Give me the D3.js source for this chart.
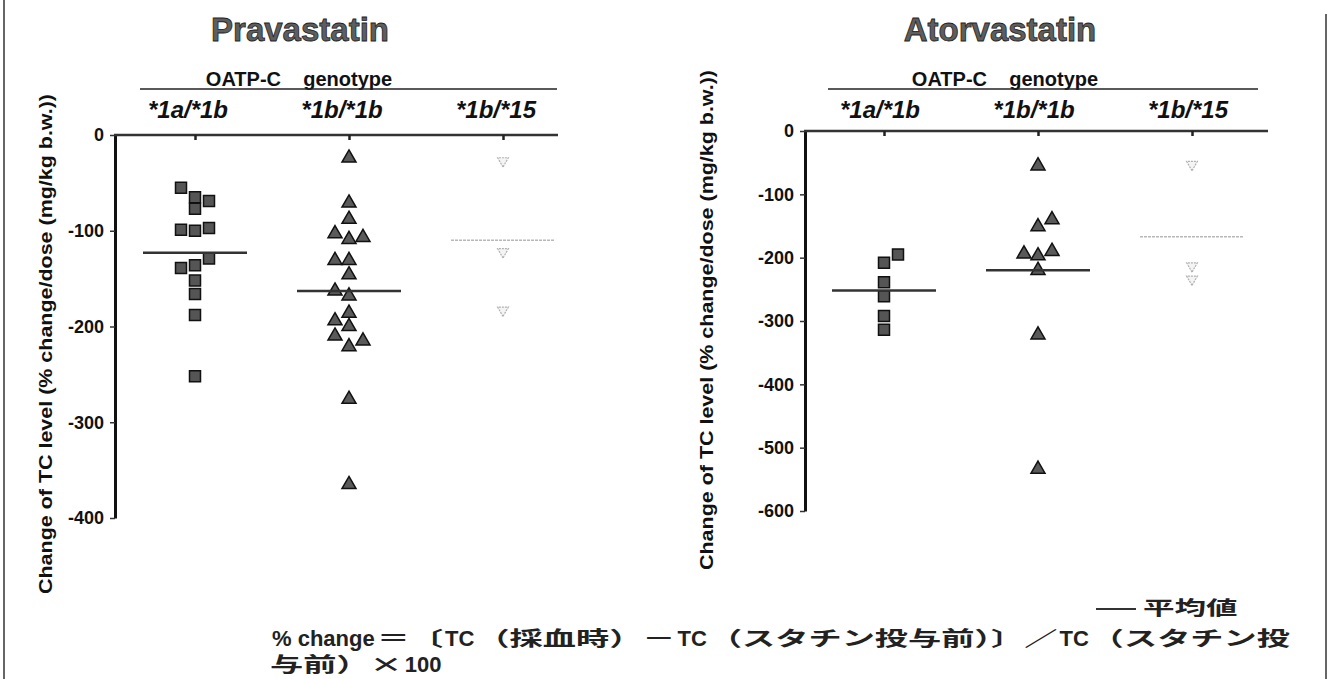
<!DOCTYPE html>
<html>
<head>
<meta charset="utf-8">
<script src="https://cdn.jsdelivr.net/npm/d3@7"></script>
<style>
  body { margin: 0; background: #fff; }
  svg text { font-family: "Liberation Sans", Arial, sans-serif; }
</style>
</head>
<body>
<div id="chart"></div>
<script>
(function() {
  var width = 1331, height = 679;

  // categories
  var genotypes = ["*1a/*1b", "*1b/*1b", "*1b/*15"];

  // Pravastatin values (% change / dose), with side lane for overlapping points
  var pravaSq = [-55, -65, -69, -77, -99, -100, -97, -129, -139, -136, -152, -166, -188, -252];
  var pravaSqLane = [-1, 0, 1, 0, -1, 0, 1, 1, -1, 0, 0, 0, 0, 0];
  var pravaTri = [-24, -71, -88, -103, -109, -107, -131, -131, -146, -163, -168, -186, -194, -200, -210, -215, -221, -276, -365];
  var pravaTriLane = [0, 0, 0, -1, 0, 1, -1, 0, 0, -1, 0, 0, -1, 0, -1, 1, 0, 0, 0];
  var pravaInv = [-27, -122, -183];
  var pravaInvLane = [0, 0, 0];
  var pravaMeans = [-123, -163, -110];

  // Atorvastatin values
  var atorSq = [-195, -208, -239, -261, -292, -314];
  var atorSqLane = [1, 0, 0, 0, 0, 0];
  var atorTri = [-55, -140, -151, -194, -197, -190, -220, -322, -534];
  var atorTriLane = [0, 1, 0, -1, 0, 1, 0, 0, 0];
  var atorInv = [-53, -213, -234];
  var atorInvLane = [0, 0, 0];
  var atorMeans = [-252, -220, -167];

  var pravaTicks = [0, -100, -200, -300, -400];
  var atorTicks = [0, -100, -200, -300, -400, -500, -600];

  var yLabel = "Change of TC level (% change/dose (mg/kg b.w.))";

  // footnote pieces: [text, isLatin]
  var noteLine1 = [
    ["% change", true], ["＝〔", false], ["TC", true], ["（採血時）－", false],
    ["TC", true], ["（スタチン投与前）〕／", false], ["TC", true], ["（スタチン投", false]
  ];
  var noteLine2 = [["与前）×", false], ["100", true]];
  var legendLabel = "平均値";

  var svg = d3.select("#chart")
    .append("svg")
    .attr("width", width)
    .attr("height", height);

  // frame lines
  svg.append("line").attr("x1", 4).attr("x2", 4).attr("y1", 0).attr("y2", height)
    .attr("stroke", "#333").attr("stroke-width", 1.5);
  svg.append("line").attr("x1", 1326).attr("x2", 1326).attr("y1", 14).attr("y2", height)
    .attr("stroke", "#333").attr("stroke-width", 1.5);

  var lane = d3.scaleLinear().domain([-1, 1]).range([-14, 14]);

  function groupsFor(sq, sqLane, tri, triLane, inv, invLane) {
    return [
      { key: genotypes[0], values: sq, lanes: sqLane, shape: "square" },
      { key: genotypes[1], values: tri, lanes: triLane, shape: "tri" },
      { key: genotypes[2], values: inv, lanes: invLane, shape: "inv" }
    ];
  }

  var panels = [
    {
      title: "Pravastatin", titleX: 300, headX: 299,
      axisX: 115, endX: 558, yTop: 135, yBottom: 518,
      catRange: [195, 503], lineRange: [140, 557], genoShift: -7,
      domain: [-400, 0], ticks: pravaTicks, labelX: 45, labelY: 344,
      groups: groupsFor(pravaSq, pravaSqLane, pravaTri, pravaTriLane, pravaInv, pravaInvLane),
      means: pravaMeans
    },
    {
      title: "Atorvastatin", titleX: 1000, headX: 1005,
      axisX: 805, endX: 1268, yTop: 131, yBottom: 511,
      catRange: [884, 1192], lineRange: [828, 1258], genoShift: -4,
      domain: [-600, 0], ticks: atorTicks, labelX: 706, labelY: 320,
      groups: groupsFor(atorSq, atorSqLane, atorTri, atorTriLane, atorInv, atorInvLane),
      means: atorMeans
    }
  ];

  var squareSym = d3.symbol().type(d3.symbolSquare).size(121);
  var triSym = d3.symbol().type(d3.symbolTriangle).size(85);
  var invSym = d3.symbol().type(d3.symbolTriangle).size(50);

  panels.forEach(function(p) {
    var g = svg.append("g");

    var yScale = d3.scaleLinear().domain(p.domain).range([p.yBottom, p.yTop]);
    var xScale = d3.scalePoint().domain(genotypes).range(p.catRange);

    // title
    g.append("text")
      .attr("x", p.titleX)
      .attr("y", 41)
      .attr("text-anchor", "middle")
      .style("font-size", "33px")
      .style("font-weight", "bold")
      .attr("fill", "#5e5e5e")
      .attr("stroke", "#1e1e1e")
      .attr("stroke-width", 0.8)
      .text(p.title);

    // OATP-C genotype header
    g.append("text")
      .attr("x", p.headX)
      .attr("y", 86)
      .attr("text-anchor", "middle")
      .style("font-size", "20px")
      .style("font-weight", "bold")
      .attr("fill", "#111")
      .attr("xml:space", "preserve")
      .text("OATP-C    genotype");

    g.append("line")
      .attr("x1", p.lineRange[0]).attr("x2", p.lineRange[1])
      .attr("y1", 89).attr("y2", 89)
      .attr("stroke", "#222").attr("stroke-width", 1.5);

    // genotype labels
    g.selectAll(".geno")
      .data(genotypes)
      .enter().append("text")
      .attr("class", "geno")
      .attr("x", function(d) { return xScale(d) + p.genoShift; })
      .attr("y", 118)
      .attr("text-anchor", "middle")
      .style("font-size", "24px")
      .style("font-weight", "bold")
      .style("font-style", "italic")
      .attr("fill", "#111")
      .text(function(d) { return d; });

    // y axis
    var yAxis = d3.axisLeft(yScale)
      .tickValues(p.ticks)
      .tickSize(5)
      .tickSizeOuter(0)
      .tickPadding(6)
      .tickFormat(function(d) { return String(d); });

    var ya = g.append("g")
      .attr("class", "y-axis")
      .attr("transform", "translate(" + p.axisX + ",0)")
      .call(yAxis);
    ya.select(".domain").attr("stroke", "#111").attr("stroke-width", 3);
    ya.selectAll(".tick line").attr("stroke", "#333").attr("stroke-width", 1.5);
    ya.selectAll(".tick text")
      .style("font-size", "18px")
      .style("font-weight", "bold")
      .attr("fill", "#111");

    // top axis at zero with category ticks
    g.append("line")
      .attr("x1", p.axisX - 1).attr("x2", p.endX)
      .attr("y1", yScale(0)).attr("y2", yScale(0))
      .attr("stroke", "#333").attr("stroke-width", 2.5);

    var xAxis = d3.axisBottom(xScale).tickSize(5).tickSizeOuter(0).tickFormat("");
    var xa = g.append("g")
      .attr("transform", "translate(0," + yScale(0) + ")")
      .call(xAxis);
    xa.select(".domain").remove();
    xa.selectAll(".tick line").attr("stroke", "#222").attr("stroke-width", 2.5);

    // y axis label
    g.append("text")
      .attr("transform", "translate(" + p.labelX + "," + p.labelY + ") rotate(-90)")
      .attr("text-anchor", "middle")
      .attr("dy", "0.35em")
      .attr("textLength", 500)
      .attr("lengthAdjust", "spacingAndGlyphs")
      .style("font-size", "19px")
      .style("font-weight", "bold")
      .attr("fill", "#111")
      .text(yLabel);

    // points
    p.groups.forEach(function(grp) {
      var pts = grp.values.map(function(v, i) { return { v: v, lane: grp.lanes[i] }; });
      var sel = g.selectAll(".pt-" + grp.shape)
        .data(pts)
        .enter().append("path")
        .attr("class", "pt-" + grp.shape)
        .attr("transform", function(d) {
          var t = "translate(" + (xScale(grp.key) + lane(d.lane)) + "," + yScale(d.v) + ")";
          if (grp.shape === "inv") t += " rotate(180)";
          return t;
        });
      if (grp.shape === "square") {
        sel.attr("d", squareSym).attr("fill", "#555").attr("stroke", "#111").attr("stroke-width", 1.5);
      } else if (grp.shape === "tri") {
        sel.attr("d", triSym).attr("fill", "#5a5a5a").attr("stroke", "#111").attr("stroke-width", 1.5);
      } else {
        sel.attr("d", invSym).attr("fill", "#f4f4f4").attr("stroke", "#b0b0b0").attr("stroke-width", 1.2)
          .attr("stroke-dasharray", "2,1");
      }
    });

    // mean lines
    g.selectAll(".mean")
      .data(p.means)
      .enter().append("line")
      .attr("class", "mean")
      .attr("x1", function(d, i) { return xScale(genotypes[i]) - 52; })
      .attr("x2", function(d, i) { return xScale(genotypes[i]) + 52; })
      .attr("y1", function(d) { return yScale(d); })
      .attr("y2", function(d) { return yScale(d); })
      .attr("stroke", function(d, i) { return i === 2 ? "#b8b8b8" : "#333"; })
      .attr("stroke-width", function(d, i) { return i === 2 ? 1.5 : 2.5; })
      .attr("stroke-dasharray", function(d, i) { return i === 2 ? "3,1" : null; });
  });

  // footnote with wide (stretched) Japanese glyphs and plain latin
  var jp = "'Noto Sans CJK JP', sans-serif";
  var latin = "'Liberation Sans', Arial, sans-serif";
  var gap = 2;

  function addPieces(pieces, y) {
    return pieces.map(function(pc) {
      var t = svg.append("text")
        .attr("y", y)
        .style("font-family", pc[1] ? latin : jp)
        .style("font-size", pc[1] ? "22px" : "20px")
        .style("font-weight", "bold")
        .attr("fill", "#222")
        .text(pc[0]);
      return { node: t, latin: pc[1], w: t.node().getComputedTextLength() };
    });
  }

  var line1 = addPieces(noteLine1, 646);
  var line2 = addPieces(noteLine2, 672);

  var latinW = d3.sum(line1, function(d) { return d.latin ? d.w + 2 * gap : 0; });
  var cjkW = d3.sum(line1, function(d) { return d.latin ? 0 : d.w; });
  var sx = (1020 - latinW) / cjkW;

  function place(pieces, x0) {
    var x = x0;
    pieces.forEach(function(pc) {
      if (pc.latin) {
        pc.node.attr("x", x + gap);
        x += pc.w + 2 * gap;
      } else {
        pc.node.attr("transform", "translate(" + x + ",0) scale(" + sx + ",1)");
        x += pc.w * sx;
      }
    });
  }
  place(line1, 270);
  place(line2, 270);

  // legend for the mean line
  svg.append("line")
    .attr("x1", 1096).attr("x2", 1136)
    .attr("y1", 609).attr("y2", 609)
    .attr("stroke", "#333").attr("stroke-width", 2);

  svg.append("text")
    .attr("y", 615)
    .attr("transform", "translate(1143,0) scale(" + sx + ",1)")
    .style("font-family", jp)
    .style("font-size", "19px")
    .style("font-weight", "bold")
    .attr("fill", "#222")
    .text(legendLabel);
})();
</script>
</body>
</html>
